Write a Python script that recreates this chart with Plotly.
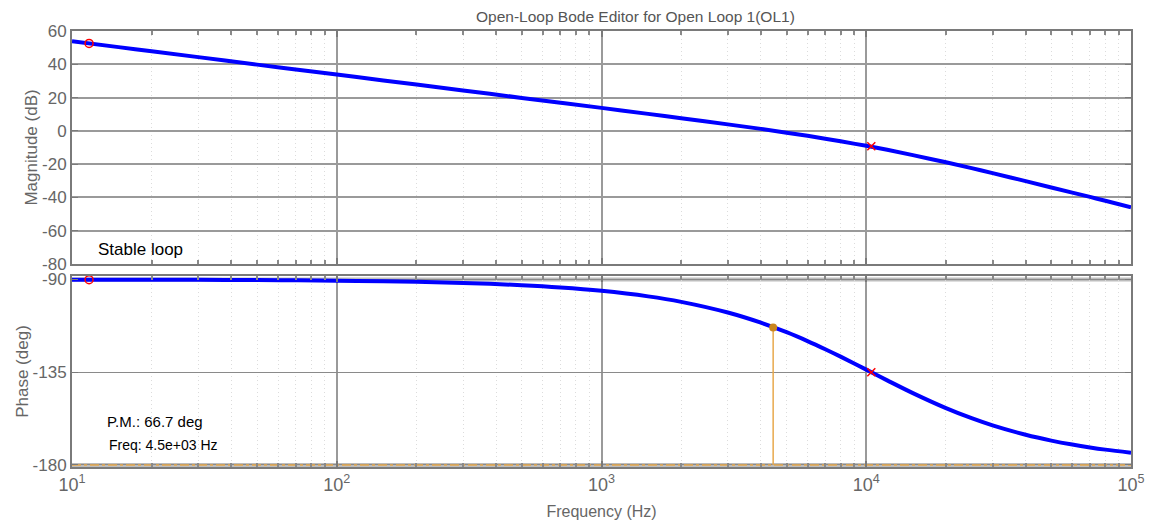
import plotly.graph_objects as go

# ---- data ----
freq_hz = [10, 15, 20, 30, 50, 70, 100, 150, 200, 300, 500, 700, 1000, 1500, 2000,
           3000, 4000, 5000, 6000, 7000, 8000, 10000, 12000, 15000, 20000, 25000,
           30000, 40000, 50000, 60000, 70000, 80000, 100000]
mag_db = [53.8, 50.3, 47.8, 44.3, 39.8, 36.9, 33.8, 30.3, 27.8, 24.3, 19.8, 16.9, 13.8,
          10.2, 7.6, 3.9, 1.2, -1.1, -3.0, -4.7, -6.3, -9.0, -11.4, -14.6, -18.9, -22.4,
          -25.4, -30.2, -34.0, -37.1, -39.7, -42.0, -45.9]
phase_deg = [-90.05, -90.08, -90.11, -90.16, -90.27, -90.38, -90.55, -90.82, -91.1,
             -91.64, -92.74, -93.83, -95.47, -98.17, -100.84, -106.02, -110.95, -115.56,
             -119.86, -123.83, -127.44, -133.74, -138.94, -145.13, -152.41, -157.31,
             -160.8, -165.36, -168.2, -170.12, -171.51, -172.56, -174.03]

zero_freq = [11.6]
zero_mag = [52.5]
zero_phase = [-90.05]
pole_freq = [10450]
pole_mag = [-9.2]
pole_phase = [-135.0]
pm_freq = [4450]
pm_phase = [-113.3]
phase_floor = -180

mag_ticks = [60, 40, 20, 0, -20, -40, -60, -80]
phase_ticks = [-180, -135, -90]
decades = [1, 2, 3, 4, 5]
x_tick_text = ["10<sup>%d</sup>" % d for d in decades]

title_text = "Open-Loop Bode Editor for Open Loop 1(OL1)"
stable_text = "Stable loop"
pm_text = "P.M.: 66.7 deg"
freq_text = "Freq: 4.5e+03 Hz"

# ---- figure ----
BLUE = "#0000ff"
ORANGE = "#e8a94c"
ORANGE_DOT = "#c9861f"
FONT = "Liberation Sans, Arial, sans-serif"
TICKGRAY = "#666666"

x_major = [10 ** d for d in decades]
x_minor = [m * 10 ** d for d in decades[:-1] for m in range(2, 10)]

fig = go.Figure()

# magnitude
fig.add_trace(go.Scatter(x=freq_hz, y=mag_db, xaxis="x2", yaxis="y2", mode="lines",
                         line=dict(color=BLUE, width=4, shape="spline"), hoverinfo="skip"))
fig.add_trace(go.Scatter(x=zero_freq, y=zero_mag, xaxis="x2", yaxis="y2", mode="markers",
                         marker=dict(symbol="circle-open", color="red", size=8, line=dict(width=1.5))))
fig.add_trace(go.Scatter(x=pole_freq, y=pole_mag, xaxis="x2", yaxis="y2", mode="markers",
                         marker=dict(symbol="x-thin-open", color="red", size=8, line=dict(width=1.5, color="red"))))

# phase
fig.add_trace(go.Scatter(x=[freq_hz[0], freq_hz[-1]], y=[phase_floor, phase_floor], xaxis="x", yaxis="y",
                         mode="lines", line=dict(color=ORANGE, width=1.5, dash="dashdot")))
fig.add_trace(go.Scatter(x=[pm_freq[0], pm_freq[0]], y=[phase_floor, pm_phase[0]], xaxis="x", yaxis="y",
                         mode="lines", line=dict(color=ORANGE, width=1.5)))
fig.add_trace(go.Scatter(x=freq_hz, y=phase_deg, xaxis="x", yaxis="y", mode="lines",
                         line=dict(color=BLUE, width=4, shape="spline")))
fig.add_trace(go.Scatter(x=pm_freq, y=pm_phase, xaxis="x", yaxis="y", mode="markers",
                         marker=dict(color=ORANGE_DOT, size=8)))
fig.add_trace(go.Scatter(x=zero_freq, y=zero_phase, xaxis="x", yaxis="y", mode="markers",
                         marker=dict(symbol="circle-open", color="red", size=8, line=dict(width=1.5))))
fig.add_trace(go.Scatter(x=pole_freq, y=pole_phase, xaxis="x", yaxis="y", mode="markers",
                         marker=dict(symbol="x-thin-open", color="red", size=8, line=dict(width=1.5, color="red"))))

# thick light bands at phase -90 and -180
shapes = []
for v in (phase_ticks[0], phase_ticks[-1]):
    shapes.append(dict(type="line", xref="x domain", yref="y", x0=0, x1=1, y0=v, y1=v,
                       line=dict(color="#bdbdbd", width=4), layer="below"))

xcommon = dict(type="log", range=[1, 5], showline=True, linecolor="#7a7a7a", linewidth=2,
               mirror="ticks", ticks="inside", ticklen=6, tickcolor="#7a7a7a", tickwidth=1.5,
               showgrid=True, gridcolor="#9a9a9a", gridwidth=2,
               tickvals=x_major, ticktext=x_tick_text, automargin=False,
               minor=dict(tickvals=x_minor, ticks="inside", ticklen=4, tickcolor="#8a8a8a",
                          showgrid=True, gridcolor="#dcdcdc", griddash="1px,3px", gridwidth=1),
               zeroline=False)

ycommon = dict(showline=True, linecolor="#7a7a7a", linewidth=2, mirror="ticks",
               ticks="inside", ticklen=6, tickcolor="#7a7a7a", zeroline=False,
               automargin=False, tickfont=dict(size=17, color=TICKGRAY))

fig.update_layout(
    width=1151, height=520,
    margin=dict(l=72, r=20, t=31, b=53),
    paper_bgcolor="white", plot_bgcolor="white",
    showlegend=False,
    font=dict(family=FONT, color=TICKGRAY),
    shapes=shapes,
    xaxis=dict(**xcommon, domain=[0, 1], anchor="y",
               tickfont=dict(size=18, color=TICKGRAY),
               title=dict(text="Frequency (Hz)", font=dict(size=16, color=TICKGRAY), standoff=14)),
    xaxis2=dict(**xcommon, domain=[0, 1], anchor="y2", matches="x", showticklabels=False),
    yaxis=dict(**ycommon, domain=[0, 0.438], range=[-181, -88.3], tickvals=phase_ticks,
               ticktext=[str(v) for v in phase_ticks],
               showgrid=True, gridcolor="#8a8a8a", gridwidth=1,
               title=dict(text="Phase (deg)", font=dict(size=17, color=TICKGRAY), standoff=0)),
    yaxis2=dict(**ycommon, domain=[0.4656, 1], range=[-80, 60], tickvals=mag_ticks,
                ticktext=[str(v) for v in mag_ticks],
                showgrid=True, gridcolor="#9a9a9a", gridwidth=2,
                title=dict(text="Magnitude (dB)", font=dict(size=17, color=TICKGRAY), standoff=0)),
    annotations=[
        dict(text=title_text, xref="paper", yref="paper", x=0.532, y=1.0, yshift=4,
             xanchor="center", yanchor="bottom", showarrow=False,
             font=dict(size=15.5, color="#555555")),
        dict(text=stable_text, xref="paper", yref="y2", x=0.023, y=-71.5,
             xanchor="left", yanchor="middle", showarrow=False,
             font=dict(size=17, color="black")),
        dict(text=pm_text, xref="paper", yref="y", x=0.031, y=-159,
             xanchor="left", yanchor="middle", showarrow=False,
             font=dict(size=15, color="black")),
        dict(text=freq_text, xref="paper", yref="y", x=0.033, y=-170.5,
             xanchor="left", yanchor="middle", showarrow=False,
             font=dict(size=14, color="black")),
    ],
)

fig.write_html("out.html")
